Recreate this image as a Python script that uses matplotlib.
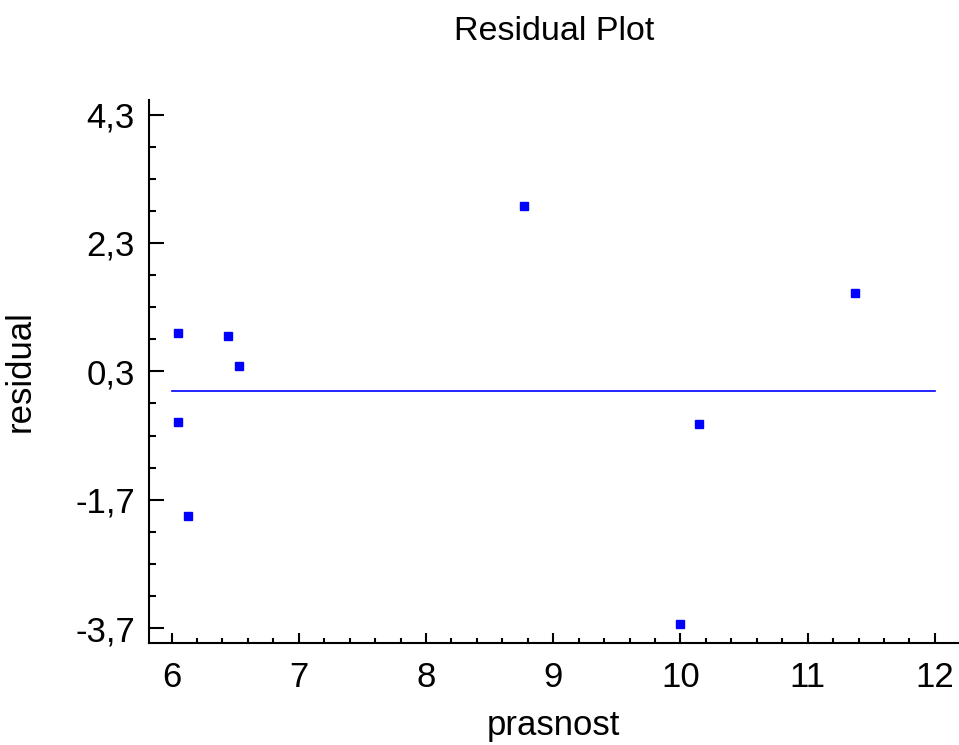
import matplotlib
matplotlib.use("Agg")
import matplotlib.pyplot as plt
from matplotlib.ticker import MultipleLocator, FixedLocator, FuncFormatter

plt.rcParams['font.family'] = ['Liberation Sans', 'DejaVu Sans']

# residuals
prasnost = [6.05, 6.44, 6.53, 6.05, 6.13, 8.77, 10.15, 10.00, 11.37]
residual = [0.90, 0.85, 0.38, -0.49, -1.96, 2.88, -0.52, -3.63, 1.52]
zero_x = [6, 12]
zero_y = [0, 0]
y_ticks = [-3.7, -1.7, 0.3, 2.3, 4.3]
x_ticks = [6, 7, 8, 9, 10, 11, 12]

fig = plt.figure(figsize=(9.59, 7.45), dpi=100)
ax = fig.add_axes([0.155, 0.137, 0.845, 0.729])

ax.plot(zero_x, zero_y, color='#0000ff', lw=1.2)
ax.plot(prasnost, residual, ls='none', marker='s', ms=5.5, color='#0000ff')

ax.set_xlim(5.82, 12.19)
ax.set_ylim(-3.93, 4.53)

ax.xaxis.set_major_locator(FixedLocator(x_ticks))
ax.xaxis.set_minor_locator(MultipleLocator(0.2))
ax.yaxis.set_major_locator(FixedLocator(y_ticks))
ax.yaxis.set_minor_locator(FixedLocator([-3.7 + 0.5 * i for i in range(17)]))

fmt = FuncFormatter(lambda v, p: ('%g' % round(v, 1)).replace('.', ','))
ax.xaxis.set_major_formatter(fmt)
ax.yaxis.set_major_formatter(fmt)

for s in ['top', 'right']:
    ax.spines[s].set_visible(False)
for s in ['left', 'bottom']:
    ax.spines[s].set_linewidth(1.5)

ax.tick_params(axis='both', which='both', direction='in', width=1.5, labelsize=25)
ax.tick_params(axis='y', which='major', length=11, pad=10)
ax.tick_params(axis='y', which='minor', length=5)
ax.tick_params(axis='x', which='major', length=7.5, pad=13)
ax.tick_params(axis='x', which='minor', length=3.5)

ax.set_xlabel('prasnost', fontsize=25)
ax.set_ylabel('residual', fontsize=25)
ax.xaxis.set_label_coords(0.5, -0.122)
ax.yaxis.set_label_coords(-0.138, 0.5)
ax.set_title('Residual Plot', fontsize=24.5, pad=43)

fig.savefig('out.png', dpi=100)
